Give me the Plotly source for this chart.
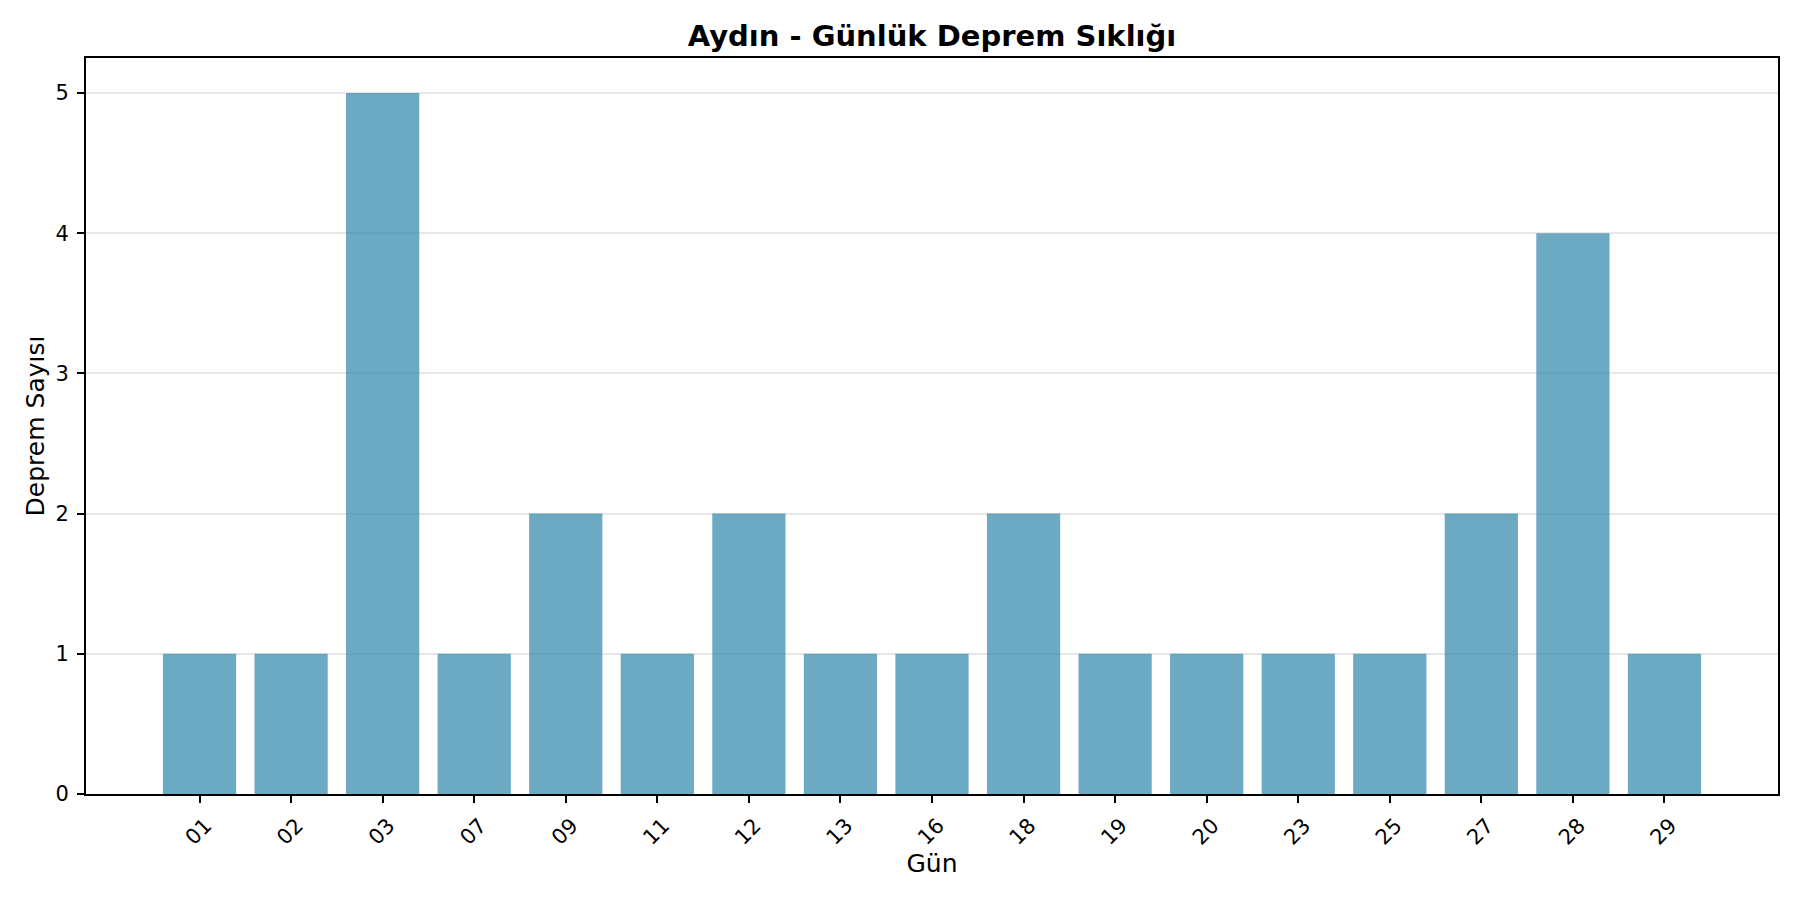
import plotly.graph_objects as go

days = ["01", "02", "03", "07", "09", "11", "12", "13", "16", "18", "19", "20", "23", "25", "27", "28", "29"]
counts = [1, 1, 5, 1, 2, 1, 2, 1, 1, 2, 1, 1, 1, 1, 2, 4, 1]
y_ticks = [0, 1, 2, 3, 4, 5]

title_text = "Aydın - Günlük Deprem Sıklığı"
x_title = "Gün"
y_title = "Deprem Sayısı"

FONT = "DejaVu Sans"
W, H = 1792, 892

fig = go.Figure()
fig.add_trace(go.Bar(
    x=days, y=counts,
    marker=dict(color="rgba(46,134,171,0.7)", line=dict(width=0)),
    width=0.8,
))

fig.update_layout(
    width=W, height=H,
    paper_bgcolor="white", plot_bgcolor="white",
    margin=dict(l=78, r=22, t=50, b=106, autoexpand=False, pad=0),
    showlegend=False,
    font=dict(family=FONT, color="black", size=21),
    title=dict(
        text="<b>" + title_text + "</b>",
        x=(78 + 846) / W, xref="container", xanchor="center",
        y=1 - 28 / H, yref="container", yanchor="middle",
        font=dict(family=FONT, size=29, color="black"),
    ),
)

fig.update_xaxes(
    type="category",
    range=[-1.24, 17.24],
    showline=True, linecolor="black", linewidth=1.7, mirror=True,
    ticks="outside", ticklen=7, tickwidth=1.7, tickcolor="black",
    tickangle=-45, tickfont=dict(family=FONT, size=21, color="black"),
    ticklabelshift=6, ticklabelstandoff=2,
    showgrid=False, zeroline=False,
    title=dict(text=x_title, font=dict(family=FONT, size=25, color="black"), standoff=3),
    automargin=False,
)

fig.update_yaxes(
    range=[0, 5.25],
    tickvals=y_ticks, ticktext=[str(v) for v in y_ticks],
    showline=True, linecolor="black", linewidth=1.7, mirror=True,
    ticks="outside", ticklen=7, tickwidth=1.7, tickcolor="black",
    tickfont=dict(family=FONT, size=21, color="black"),
    ticklabelstandoff=4,
    showgrid=True, gridcolor="rgba(176,176,176,0.3)", gridwidth=1.7,
    zeroline=False,
    layer="above traces",
    title=dict(text=y_title, font=dict(family=FONT, size=25, color="black"), standoff=4),
    automargin=False,
)

fig.write_html("out.html")
